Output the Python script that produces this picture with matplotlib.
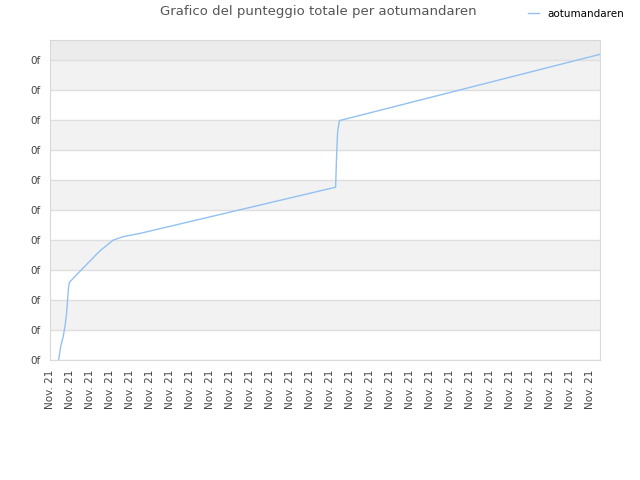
import matplotlib
matplotlib.use("Agg")
import matplotlib.pyplot as plt

title = "Grafico del punteggio totale per aotumandaren"
series_name = "aotumandaren"

# x positions in tick units, y values in gridline units
x_vals = [0.43, 0.53, 0.66, 0.76, 0.83, 0.88, 0.93, 0.97, 1.53, 2.50, 3.17,
          3.65, 4.50, 14.28, 14.33, 14.38, 14.47, 27.50]
y_vals = [0.00, 0.44, 0.78, 1.17, 1.57, 2.00, 2.44, 2.59, 2.98, 3.64, 4.00,
          4.11, 4.22, 5.76, 6.80, 7.60, 7.98, 10.19]

x_ticks = list(range(28))
x_labels = ["Nov. 21"] * 28
y_ticks = list(range(11))
y_labels = ["0f"] * 11

line_color = "#92c1f2"

fig = plt.figure(figsize=(6.4, 4.8), dpi=100)
ax = fig.add_axes([50 / 640, 120 / 480, 550 / 640, 320 / 480])

ax.set_xlim(0, 27.5)
ax.set_ylim(0, 320 / 30)

# alternating bands
for i in range(1, 10, 2):
    ax.axhspan(i, i + 1, color="#f2f2f2", zorder=0, lw=0)
ax.axhspan(10, 320 / 30, color="#ececec", zorder=0, lw=0)

ax.plot(x_vals, y_vals, color=line_color, linewidth=1.0, label=series_name, zorder=3)

ax.set_yticks(y_ticks)
ax.set_yticklabels(y_labels)
ax.set_xticks(x_ticks)
ax.set_xticklabels(x_labels, rotation=90)
ax.tick_params(axis="both", length=0, labelsize=7.5, colors="#444444")
ax.tick_params(axis="y", pad=7)
ax.tick_params(axis="x", pad=7)
ax.grid(axis="y", color="#dedede", linewidth=1.0, zorder=1)
ax.set_axisbelow(True)
for s in ax.spines.values():
    s.set_color("#d9d9d9")

fig.text(318 / 640, 1 - 12 / 480, title, ha="center", va="center",
         fontsize=9.5, color="#555555")
fig.legend(loc="center left", bbox_to_anchor=(524 / 640, 1 - 14 / 480),
           frameon=False, fontsize=7.5, handlelength=1.0, handletextpad=0.8,
           borderaxespad=0)

plt.savefig("out.png", dpi=100)
